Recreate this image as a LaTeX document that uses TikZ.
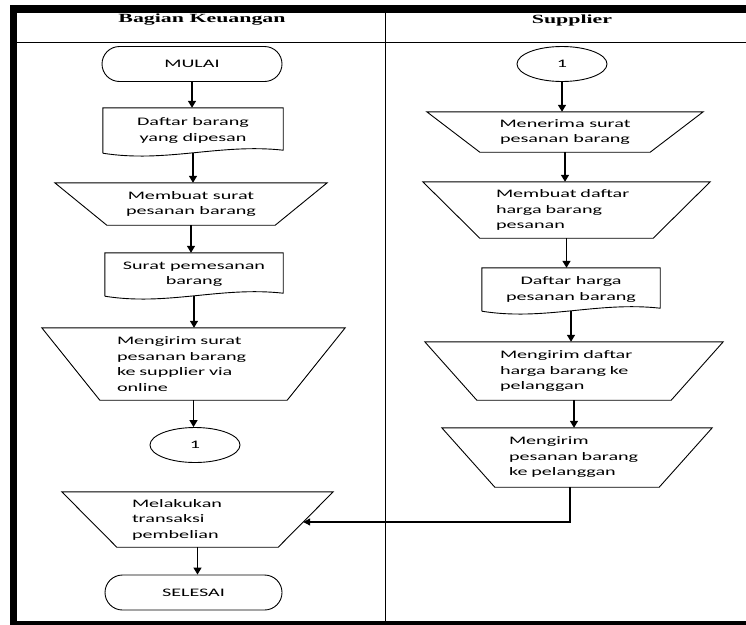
\documentclass[tikz,border=0pt]{standalone}
\usepackage{fontspec}
\setmainfont{Carlito}[FakeStretch=1.75]
\newfontfamily\hdrfont{Liberation Serif}[FakeStretch=1.75]
\usetikzlibrary{arrows.meta,calc,shapes.geometric}
\newcommand\trapdraw[2]{\draw[shp] (#1.north west) -- (#1.north east) -- ($(#1.south east)+(-#2,0)$) -- ($(#1.south west)+(#2,0)$) -- cycle;}
\newcommand\docdraw[1]{\draw[shp] (#1.south west) -- (#1.north west) -- (#1.north east) -- ($(#1.south east)+(0,-3)$)
  .. controls ($(#1.south east)!0.35!(#1.south west)+(0,-10)$) and ($(#1.south east)!0.65!(#1.south west)+(0,10)$) .. (#1.south west);}
\begin{document}
\begin{tikzpicture}[x=1pt,y=-1pt,
  shp/.style={draw=black,line width=0.9pt},
  txt/.style={font=\fontsize{11.5}{15.5}\selectfont, inner sep=0pt},
  term/.style={txt,shp,rounded corners=17.5pt,minimum height=35},
  conn/.style={txt,shp,ellipse,minimum width=90,minimum height=35},
  op/.style={txt,draw=none},
  docbox/.style={txt,draw=none,align=center},
  hdr/.style={font=\hdrfont\bfseries\fontsize{12.5}{14}\selectfont, inner sep=0pt},
  arr/.style={line width=1.4pt,-{Triangle[length=7pt,width=8pt]}},
  thinarr/.style={line width=1.1pt,-{Triangle[length=7pt,width=7pt]}},
  frame/.style={draw=black}]
\useasboundingbox (0,0) rectangle (746,624);
% frame
\draw[frame,line width=8] (10,9) -- (746,9);
\draw[frame,line width=7] (13.5,5) -- (13.5,624);
\draw[frame,line width=4] (10,622.5) -- (746,622.5);
\draw[frame,line width=1.2] (17,42.5) -- (746,42.5);
\draw[frame,line width=1.8] (385.5,13) -- (385.5,621);
% headers
\node[hdr] (h1) at (202,20) {Bagian Keuangan};
\node[hdr] (h2) at (572,20) {Supplier};
% left lane
\node[term,minimum width=180] (mulai) at (192,64) {MULAI};
\node[docbox,minimum width=180,minimum height=45] (daftar) at (193,130.5) {Daftar barang\\yang dipesan};
\docdraw{daftar}
\node[op,align=center,minimum width=272,minimum height=42] (mt1) at (191,204) {Membuat surat\\pesanan barang};
\trapdraw{mt1}{52}
\node[docbox,minimum width=178,minimum height=43] (surat) at (194,274.5) {Surat pemesanan\\barang};
\docdraw{surat}
\node[op,align=left,text width=153,minimum width=303,minimum height=72] (mt2) at (193.5,364) {Mengirim surat\\pesanan barang\\ke supplier via\\online};
\trapdraw{mt2}{58}
\node[conn] (c1) at (195,445) {1};
\node[op,align=left,text width=131,minimum width=271,minimum height=55] (mt3) at (197.5,519.5) {Melakukan\\transaksi\\pembelian};
\trapdraw{mt3}{55}
\node[term,minimum width=177] (selesai) at (193.5,592.5) {SELESAI};
% right lane
\node[conn] (c2) at (562,64) {1};
\node[op,align=center,minimum width=276,minimum height=40] (mt4) at (565,132) {Menerima surat\\pesanan barang};
\trapdraw{mt4}{53}
\node[op,align=left,text width=141,minimum width=287,minimum height=56] (mt5) at (566.5,210) {Membuat daftar\\harga barang\\pesanan};
\trapdraw{mt5}{57}
\node[docbox,minimum width=178,minimum height=43] (doc2) at (571,289.5) {Daftar harga\\pesanan barang};
\docdraw{doc2}
\node[op,align=left,text width=148,minimum width=298,minimum height=58] (mt6) at (574,371) {Mengirim daftar\\harga barang ke\\pelanggan};
\trapdraw{mt6}{52}
\node[op,align=left,text width=136,minimum width=270,minimum height=59] (mt7) at (577,457.5) {Mengirim\\pesanan barang\\ke pelanggan};
\trapdraw{mt7}{53}
% connectors
\draw[arr] (mulai.south) -- (mulai.south |- daftar.north);
\draw[arr] (daftar.south) -- (daftar.south |- mt1.north);
\draw[arr] (mt1.south) -- (mt1.south |- surat.north);
\draw[arr] (surat.south) -- (surat.south |- mt2.north);
\draw[arr] (mt2.south) -- (mt2.south |- c1.north);
\draw[arr] (mt3.south) -- (mt3.south |- selesai.north);
\draw[arr] (c2.south) -- (c2.south |- mt4.north);
\draw[arr] (mt4.south) -- (mt4.south |- mt5.north);
\draw[arr] (mt5.south) -- (mt5.south |- doc2.north);
\draw[arr] (doc2.south) -- (doc2.south |- mt6.north);
\draw[arr] (mt6.south) -- (mt6.south |- mt7.north);
\coordinate (mt3r) at ($(mt3.north east)!0.545!(mt3.south east)+(-30,0)$);
\draw[thinarr] ($(mt7.south)+(-7,0)$) |- (mt3r);
\end{tikzpicture}
\end{document}
